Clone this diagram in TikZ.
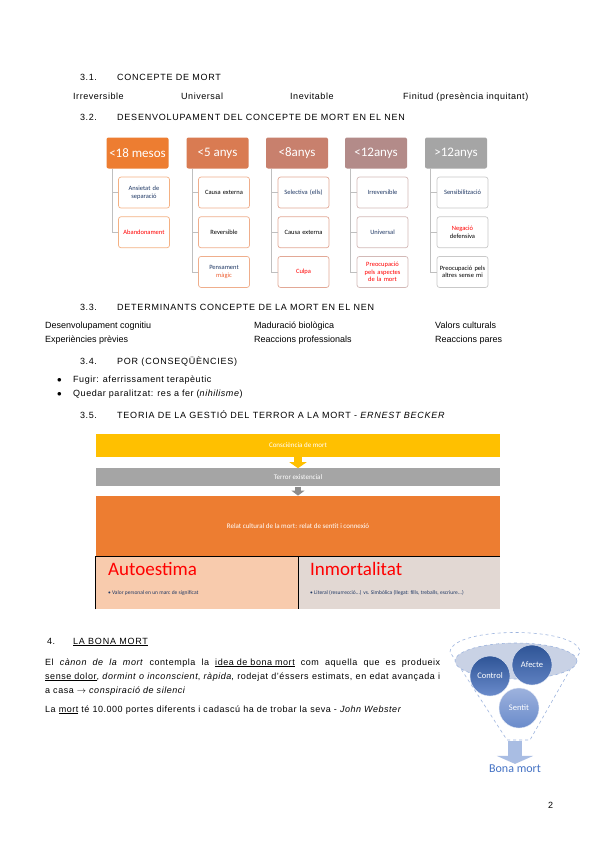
\documentclass[tikz,border=0pt]{standalone}
\usepackage{fontspec}
\setmainfont{Liberation Sans}[LetterSpace=6]
\newfontfamily\plainsans{Liberation Sans}
\newfontfamily\capsans{Liberation Sans}[LetterSpace=8.5]
\newfontfamily\carlito{Carlito}
\usetikzlibrary{positioning,calc,arrows.meta}
\definecolor{HdrA}{HTML}{ED7D31}
\definecolor{HdrB}{HTML}{D97B52}
\definecolor{HdrC}{HTML}{C8806D}
\definecolor{HdrD}{HTML}{B38B89}
\definecolor{HdrE}{HTML}{A5A5A5}
\definecolor{KidA}{HTML}{F4B183}
\definecolor{KidB}{HTML}{EFAE8C}
\definecolor{KidC}{HTML}{E2A896}
\definecolor{KidD}{HTML}{D3B9B7}
\definecolor{KidE}{HTML}{C9C9C9}
\definecolor{LinkGray}{HTML}{BFBFBF}
\definecolor{NavyTxt}{HTML}{1F3864}
\definecolor{RedTxt}{HTML}{FF0000}
\definecolor{MagicOrange}{HTML}{ED5D2F}
\definecolor{BarYellow}{HTML}{FFC000}
\definecolor{BarGray}{HTML}{A5A5A5}
\definecolor{PeachFill}{HTML}{F8CBAD}
\definecolor{TaupeFill}{HTML}{E2D8D3}
\definecolor{FunnelLine}{HTML}{9DB4DE}
\definecolor{FunnelFill}{HTML}{C9D2E5}
\definecolor{BallDark}{HTML}{2F5597}
\definecolor{BallMid}{HTML}{6A8BCB}
\definecolor{BallLight}{HTML}{9DB2DD}
\definecolor{BlockBlue}{HTML}{A9BDE3}
\definecolor{BonaBlue}{HTML}{4472C4}

\begin{document}
\begin{tikzpicture}[x=1pt, y=-1pt, font=\fontsize{9}{11}\selectfont,
  txt/.style={anchor=base west, inner sep=0pt},
  hd/.style={anchor=base west, inner sep=0pt, font=\capsans\fontsize{9}{11}\selectfont},
  hdr/.style={rectangle, rounded corners=2pt, minimum width=62pt, minimum height=31pt, text=white, inner sep=1pt, font=\carlito\fontsize{13}{14}\selectfont},
  kid/.style={draw, rounded corners=2.5pt, fill=white, minimum width=51pt, minimum height=31pt, text width=48pt, align=center, inner sep=1pt, line width=0.7pt, font=\carlito\fontsize{6.5}{7.5}\selectfont},
  link/.style={draw=LinkGray, line width=0.8pt},
  band/.style={rectangle, minimum width=404pt, inner sep=0pt, text=white, font=\carlito\fontsize{7}{8}\selectfont},
  half/.style={rectangle, minimum width=202pt, minimum height=53pt, inner sep=0pt},
  bigttl/.style={anchor=base west, inner sep=0pt, text=RedTxt, font=\carlito\fontsize{19}{20}\selectfont},
  bul/.style={anchor=base west, inner sep=0pt, text=NavyTxt, font=\carlito\fontsize{5.5}{6}\selectfont},
  ball/.style={circle, minimum size=40pt, inner sep=0pt, draw=white!70!FunnelLine, line width=0.4pt, text=white, font=\carlito\fontsize{8.5}{9}\selectfont}]

\fill[white] (0,0) rectangle (600,848);
\useasboundingbox (0,0) rectangle (600,848);

% 3.1
\node[txt] (s31n) at (80,81) {3.1.};
\node[hd] (s31) at (117,81) {CONCEPTE DE MORT};
\node[txt] (irr) at (73,100) {Irreversible};
\node[txt] (uni) at (181,100) {Universal};
\node[txt] (ine) at (290,100) {Inevitable};
\node[txt] (fin) at (403,100) {Finitud (presència inquitant)};

% 3.2
\node[txt] (s32n) at (80,121) {3.2.};
\node[hd] (s32) at (117,121) {DESENVOLUPAMENT DEL CONCEPTE DE MORT EN EL NEN};

\foreach \n/\cx/\lbl/\col in {1/137.5/{<18 mesos}/HdrA, 2/217.5/{<5 anys}/HdrB, 3/297/{<8anys}/HdrC, 4/376/{<12anys}/HdrD, 5/456/{>12anys}/HdrE}
  \node[hdr, fill=\col] (h\n) at (\cx,153) {\lbl};

\node[kid, draw=KidA, text=NavyTxt, below=8pt of h1, xshift=6.5pt] (k11) {Ansietat de separació};
\node[kid, draw=KidA, text=RedTxt, below=8pt of k11] (k12) {Abandonament};

\node[kid, draw=KidB, below=8pt of h2, xshift=6.5pt] (k21) {Causa externa};
\node[kid, draw=KidB, below=8pt of k21] (k22) {Reversible};
\node[kid, draw=KidB, below=8pt of k22] (k23) {\textcolor{NavyTxt}{Pensament}\\\textcolor{MagicOrange}{màgic}};

\node[kid, draw=KidC, text=NavyTxt, below=8pt of h3, xshift=6.5pt] (k31) {Selectiva (ells)};
\node[kid, draw=KidC, below=8pt of k31] (k32) {Causa externa};
\node[kid, draw=KidC, text=RedTxt, below=8pt of k32] (k33) {Culpa};

\node[kid, draw=KidD, text=NavyTxt, below=8pt of h4, xshift=6.5pt] (k41) {Irreversible};
\node[kid, draw=KidD, text=NavyTxt, below=8pt of k41] (k42) {Universal};
\node[kid, draw=KidD, text=RedTxt, below=8pt of k42] (k43) {Preocupació pels aspectes de la mort};

\node[kid, draw=KidE, text=NavyTxt, below=8pt of h5, xshift=6.5pt] (k51) {Sensibilització};
\node[kid, draw=KidE, below=8pt of k51] (k52) {\textcolor{RedTxt}{Negació}\\defensiva};
\node[kid, draw=KidE, below=8pt of k52] (k53) {Preocupació pels altres sense mi};

\foreach \n/\m in {1/2,2/3,3/3,4/3,5/3}
  \foreach \k in {1,...,\m}
    \draw[link] ($(h\n.south west)+(6,0)$) |- (k\n\k.west);

% 3.3
\node[txt] (s33n) at (80,310) {3.3.};
\node[hd] (s33) at (117,310) {DETERMINANTS CONCEPTE DE LA MORT EN EL NEN};
\begin{scope}[every node/.append style={font=\plainsans\fontsize{9}{11}\selectfont}]
\node[txt] (dcog) at (45,328) {Desenvolupament cognitiu};
\node[txt] (dbio) at (254,328) {Maduració biològica};
\node[txt] (dval) at (435,328) {Valors culturals};
\node[txt] (dexp) at (45,342) {Experiències prèvies};
\node[txt] (dpro) at (254,342) {Reaccions professionals};
\node[txt] (dpar) at (435,342) {Reaccions pares};
\end{scope}

% 3.4
\node[txt] (s34n) at (80,364) {3.4.};
\node[hd] (s34) at (117,364) {POR (CONSEQÜÈNCIES)};
\node[txt] (b1) at (57,382) {$\bullet$};
\node[txt] (fug) at (73,382) {Fugir: aferrissament terapèutic};
\node[txt] (b2) at (57,396) {$\bullet$};
\node[txt] (qud) at (73,396) {Quedar paralitzat: res a fer (\textit{nihilisme})};

% 3.5
\node[txt] (s35n) at (80,418) {3.5.};
\node[hd] (s35) at (117,418) {TEORIA DE LA GESTIÓ DEL TERROR A LA MORT - \textit{ERNEST BECKER}};

\node[band, fill=BarYellow, minimum height=23pt] (cons) at (298,445.5) {Consciència de mort};
\node[band, fill=BarGray, minimum height=18pt, below=11pt of cons] (terr) {Terror existencial};
\node[band, fill=HdrA, minimum height=60pt, below=9pt of terr] (relat) {Relat cultural de la mort: relat de sentit i connexió};
\node[half, fill=PeachFill, anchor=north west] (auto) at (relat.south west) {};
\node[half, fill=TaupeFill, anchor=north east] (inmo) at (relat.south east) {};
\draw[line width=0.8pt] (auto.south west) -- (auto.north west) -- (inmo.north east);
\draw[line width=0.8pt] (auto.north east) -- (auto.south east);

\draw[BarYellow, line width=8pt, -{Triangle[length=6pt 0 0, width=17pt 0 0]}] (cons.south) -- (terr.north);
\draw[BarGray!85!black, line width=6pt, -{Triangle[length=5pt 0 0, width=13pt 0 0]}] (terr.south) -- (relat.north);

\node[bigttl] (autot) at (108,575) {Autoestima};
\node[bul] (autob) at (108,594) {• Valor personal en un marc de significat};
\node[bigttl] (inmot) at (310,575) {Inmortalitat};
\node[bul] (inmob) at (310,594) {• Literal (resurrecció...) vs. Simbòlica (llegat: fills, treballs, escriure...)};

% 4
\node[txt] (s4n) at (47,644) {4.};
\node[hd] (s4) at (73,644) {\underline{LA BONA MORT}};
\node[txt, text width=395pt, align=justify, font=\fontsize{9}{14}\selectfont] (canon) at (45,665)
  {El \textit{cànon de la mort} contempla la \underline{idea de bona mort} com aquella que es produeix\linebreak
   \underline{sense dolor}, \textit{dormint o inconscient}, \textit{ràpida}, rodejat d'éssers estimats, en edat avançada i\linebreak
   a casa $\rightarrow$ \textit{conspiració de silenci}};
\node[txt] (webst) at (45,712) {La \underline{mort} té 10.000 portes diferents i cadascú ha de trobar la seva - \textit{John Webster}};

% funnel
\draw[FunnelLine, dashed, line width=0.6pt, fill=white] (450,652) .. controls (452,626) and (578,626) .. (580,652) -- (530,740) -- (507,740) -- cycle;
\draw[FunnelLine, dashed, line width=0.6pt, fill=FunnelFill] (516,661) ellipse [x radius=61, y radius=18];
\node[ball, top color=BallDark, bottom color=BallMid] (ctrl) at (490,676) {Control};
\node[ball, top color=BallDark, bottom color=BallMid!80!BallDark] (afec) at (532,665) {Afecte};
\node[ball, top color=BallLight, bottom color=BallMid] (sent) at (519,708) {Sentit};
\coordinate (fbot) at (515,741);
\node[inner sep=1pt, text=BonaBlue, font=\carlito\fontsize{12}{13}\selectfont] (bona) at (515,769) {Bona mort};
\draw[BlockBlue, line width=14pt, -{Triangle[length=8pt 0 0, width=36pt 0 0]}] (fbot) -- (bona.north);

\node[txt] (pnum) at (548,808) {2};
\end{tikzpicture}
\end{document}
